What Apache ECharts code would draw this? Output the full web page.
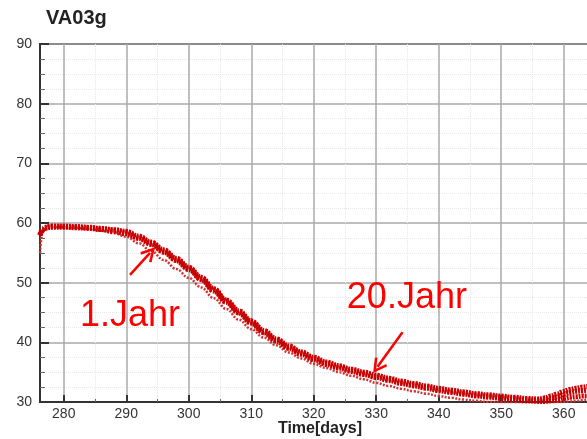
<!DOCTYPE html>
<html>
<head>
<meta charset="utf-8">
<script src="https://cdn.jsdelivr.net/npm/echarts@6/dist/echarts.min.js"></script>
<style>html,body{margin:0;padding:0;background:#fff;}#c{width:587px;height:439px;}</style>
</head>
<body>
<div id="c"></div>
<script>
const days = [276.2, 276.6, 277, 278, 280, 282, 284, 286, 288, 290, 292, 294, 296, 298, 300, 302, 304, 306, 308, 310, 312, 314, 316, 318, 320, 322, 324, 326, 328, 330, 332, 334, 336, 338, 340, 342, 344, 346, 348, 350, 352, 354, 356, 357, 358, 359, 360, 361, 362, 363, 364, 365];
const jahr1 = [55.0, 58.4, 59.0, 59.3, 59.3, 59.2, 59.0, 58.7, 58.3, 57.7, 56.6, 55.3, 53.8, 52.3, 50.8, 49.2, 47.4, 45.6, 43.8, 42.2, 40.8, 39.5, 38.3, 37.3, 36.4, 35.7, 35.0, 34.4, 33.8, 33.2, 32.7, 32.2, 31.8, 31.4, 31.0, 30.7, 30.4, 30.2, 30.0, 29.9, 29.8, 29.7, 29.7, 29.7, 29.8, 29.9, 30.0, 30.1, 30.2, 30.3, 30.4, 30.4];
const jahr2 = [57.9, 58.8, 59.1, 59.3, 59.3, 59.2, 59.1, 58.9, 58.6, 58.2, 57.4, 56.4, 55.1, 53.7, 52.2, 50.5, 48.6, 46.7, 44.9, 43.2, 41.6, 40.2, 39.0, 38.0, 37.1, 36.3, 35.7, 35.1, 34.6, 34.1, 33.6, 33.1, 32.7, 32.3, 31.9, 31.6, 31.3, 31.0, 30.8, 30.6, 30.4, 30.2, 30.1, 30.1, 30.2, 30.4, 30.6, 30.8, 30.9, 31.0, 31.0, 31.0];
const jahr10 = [58.0, 58.9, 59.2, 59.4, 59.4, 59.3, 59.2, 59.0, 58.8, 58.4, 57.6, 56.6, 55.3, 53.9, 52.4, 50.7, 48.8, 46.9, 45.1, 43.4, 41.8, 40.4, 39.2, 38.2, 37.3, 36.5, 35.9, 35.3, 34.8, 34.3, 33.8, 33.3, 32.9, 32.5, 32.1, 31.8, 31.5, 31.2, 31.0, 30.8, 30.6, 30.4, 30.3, 30.4, 30.6, 30.9, 31.3, 31.6, 31.8, 31.9, 32.0, 32.0];
const jahr20 = [58.1, 59.0, 59.3, 59.5, 59.5, 59.4, 59.3, 59.1, 58.9, 58.6, 57.8, 56.8, 55.5, 54.1, 52.6, 50.9, 49.0, 47.1, 45.3, 43.6, 42.0, 40.6, 39.4, 38.4, 37.5, 36.7, 36.1, 35.5, 35.0, 34.5, 34.0, 33.5, 33.1, 32.7, 32.3, 32.0, 31.7, 31.4, 31.2, 31.0, 30.8, 30.6, 30.5, 30.7, 31.0, 31.4, 31.8, 32.1, 32.3, 32.5, 32.6, 32.6];

const labelJahr1 = { text: '1.Jahr', at: [290.6, 44.4], arrowFrom: [290.6, 51.3], arrowTo: [293.8, 55.0] };
const labelJahr20 = { text: '20.Jahr', at: [334.9, 47.4], arrowFrom: [334.2, 41.7], arrowTo: [330.2, 35.9] };

const pair = (xs, ys) => xs.map((x, i) => [x, ys[i]]);

const lineSeries = (name, ys, color, width, dash, z) => ({
  name, type: 'line', data: pair(days, ys), showSymbol: false, smooth: 0.4, smoothMonotone: 'x',
  lineStyle: { color, width, type: dash }, z, animation: false, clip: true
});

const chevron = 'path://M50,0 L100,80 L86,90 L50,30 L14,90 L0,80 Z';

const chart = echarts.init(document.getElementById('c'));
chart.setOption({
  animation: false,
  backgroundColor: '#fff',
  title: { text: 'VA03g', left: 41, top: 3, textStyle: { fontFamily: 'Liberation Sans, Arial', fontWeight: 'bold', fontSize: 20, color: '#222' } },
  grid: { left: 40, top: 44, bottom: 37, right: -13, show: true, borderColor: '#333', borderWidth: 2, outerBoundsMode: 'none', containLabel: false },
  xAxis: {
    type: 'value', min: 276.2, max: 365.8, splitNumber: 9,
    name: 'Time[days]', nameLocation: 'middle', nameGap: 27, nameMoveOverlap: false,
    nameTextStyle: { fontFamily: 'Liberation Sans, Arial', fontWeight: 'bold', fontSize: 16, color: '#222', verticalAlign: 'middle' },
    axisLine: { show: true, lineStyle: { color: '#333', width: 2 } },
    axisTick: { show: true, inside: true, length: 7, lineStyle: { color: '#333', width: 2 } },
    minorTick: { show: true, splitNumber: 2, length: 3, lineStyle: { color: '#666' } },
    axisLabel: { fontFamily: 'Liberation Sans, Arial', fontSize: 14, color: '#333', margin: 5, showMinLabel: false, showMaxLabel: false,
      formatter: v => (Math.abs(v % 10) < 1e-6 ? String(v) : '') },
    splitLine: { show: true, lineStyle: { color: '#aaa', width: 1.5 } },
    minorSplitLine: { show: true, lineStyle: { color: '#e8e8e8', type: 'dotted' } }
  },
  yAxis: {
    type: 'value', min: 30, max: 90, interval: 10,
    axisLine: { show: true, lineStyle: { color: '#333', width: 2 } },
    axisTick: { show: true, inside: true, length: 9, lineStyle: { color: '#333', width: 2 } },
    minorTick: { show: true, splitNumber: 4, length: 5, lineStyle: { color: '#666' } },
    axisLabel: { fontFamily: 'Liberation Sans, Arial', fontSize: 14, color: '#333', margin: 8 },
    splitLine: { show: true, lineStyle: { color: '#aaa', width: 1.5 } },
    minorSplitLine: { show: true, lineStyle: { color: '#e8e8e8', type: 'dotted' } }
  },
  series: [
    lineSeries('1.Jahr', jahr1, '#d63030', 2.5, [2, 1.5], 3),
    lineSeries('2.Jahr', jahr2, '#cc0000', 5, [2, 1], 4),
    lineSeries('10.Jahr', jahr10, '#c00000', 5, [2, 1], 5),
    lineSeries('20.Jahr', jahr20, '#cc0000', 5, [2, 1], 6),
    {
      type: 'scatter', data: [], z: 10, silent: true,
      markLine: {
        silent: true, symbol: ['none', chevron], symbolSize: 15, label: { show: false },
        lineStyle: { color: '#ff0000', width: 2.5, type: 'solid' }, itemStyle: { color: '#ff0000' }, animation: false,
        data: [
          [{ coord: labelJahr1.arrowFrom }, { coord: labelJahr1.arrowTo }],
          [{ coord: labelJahr20.arrowFrom }, { coord: labelJahr20.arrowTo }]
        ]
      },
      markPoint: {
        silent: true, symbol: 'circle', symbolSize: 0, animation: false,
        label: { show: true, color: '#ff0000', fontFamily: 'Liberation Sans, Arial', fontSize: 36, position: 'inside' },
        data: [
          { coord: labelJahr1.at, label: { formatter: labelJahr1.text } },
          { coord: labelJahr20.at, label: { formatter: labelJahr20.text } }
        ]
      }
    }
  ]
});
</script>
</body>
</html>
